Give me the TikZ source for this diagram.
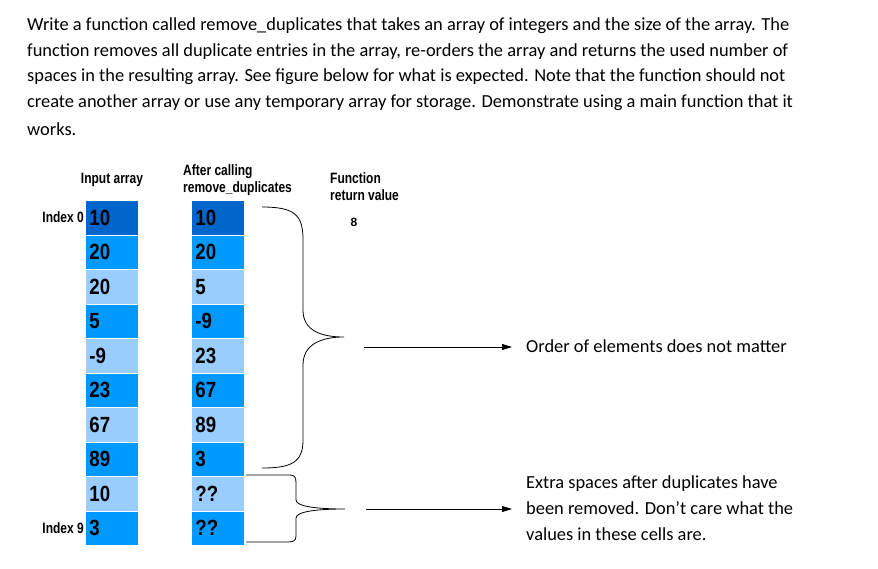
\documentclass[tikz,border=0pt]{standalone}
\usepackage{fontspec}
\setmainfont{Carlito}
\newfontfamily\arl{Liberation Sans}
\usetikzlibrary{arrows.meta}
\definecolor{dk}{HTML}{0066CC}
\definecolor{md}{HTML}{0099FF}
\definecolor{lt}{HTML}{99CCFF}
\tikzset{
 para/.style={anchor=west,inner sep=0pt,font=\fontsize{18.4}{20}\selectfont},
 cell/.style={minimum width=53pt,minimum height=34.5pt,inner sep=0pt,draw=white,line width=0.8pt,anchor=north west,text width=45pt,align=left,font=\arl\bfseries\fontsize{22}{24}\selectfont\addfontfeature{FakeStretch=0.85}},
 lab/.style={inner sep=0pt,font=\arl\bfseries\fontsize{15}{17}\selectfont\addfontfeature{FakeStretch=0.8}},
 brace/.style={line width=0.8pt},
 arr/.style={line width=0.8pt,-{Triangle[length=10pt,width=6pt]}}
}
\begin{document}
\begin{tikzpicture}[x=1pt,y=-1pt]
\useasboundingbox (0,0) rectangle (878,568);
\node[para] (p1) at (27,26) {Write a function called remove\_duplicates that takes an array of integers and the size of the array. The};
\node[para] (p2) at (27,52) {function removes all duplicate entries in the array, re-orders the array and returns the used number of};
\node[para] (p3) at (27,77) {spaces in the resulting array. See figure below for what is expected. Note that the function should not};
\node[para] (p4) at (27,103) {create another array or use any temporary array for storage. Demonstrate using a main function that it};
\node[para] (p5) at (27,129) {works.};
\foreach \v/\c [count=\i from 0] in {10/dk,20/md,20/lt,5/md,-9/lt,23/md,67/lt,89/md,10/lt,3/md}
  \node[cell,fill=\c] (a\i) at (85,{200+34.5*\i}) {\v};
\foreach \v/\c [count=\i from 0] in {10/dk,20/md,5/lt,-9/md,23/lt,67/md,89/lt,3/md,??/lt,??/md}
  \node[cell,fill=\c] (b\i) at (191,{200+34.5*\i}) {\v};
\node[lab] (t1) at (112,180) {Input array};
\node[lab,anchor=west,align=left] (t2) at (183,180) {After calling\\remove\_duplicates};
\node[lab,anchor=west,align=left] (t3) at (330,187) {Function\\return value};
\node[lab,font=\arl\bfseries\fontsize{12}{14}\selectfont] (t4) at (354,222) {8};
\node[lab,anchor=east] (i0) at (84,217) {Index 0};
\node[lab,anchor=east] (i9) at (84,528) {Index 9};
\draw[brace] (262,207) .. controls (295,207) and (303,215) .. (303,240) -- (303,310) .. controls (303,330) and (320,337) .. (344,337) .. controls (320,337) and (303,345) .. (303,365) -- (303,440) .. controls (303,462) and (292,468) .. (262,468);
\draw[brace] (246,475) -- (290,475) .. controls (295,475) and (296,478) .. (296,483) -- (296,500) .. controls (296,507) and (320,509) .. (345,509) .. controls (320,509) and (296,511) .. (296,518) -- (296,536) .. controls (296,541) and (293,542) .. (288,542) -- (246,542);
\node[para] (r1) at (526,346) {Order of elements does not matter};
\node[para,align=left,anchor=north west,font=\fontsize{18.4}{25.8}\selectfont] (r2) at (526,476) {Extra spaces after duplicates have\\been removed. Don’t care what the\\values in these cells are.};
\coordinate (s1) at (364,347);
\coordinate (s2) at (366,509);
\draw[arr] (s1) -- (512,347);
\draw[arr] (s2) -- (512,509);
\end{tikzpicture}
\end{document}
